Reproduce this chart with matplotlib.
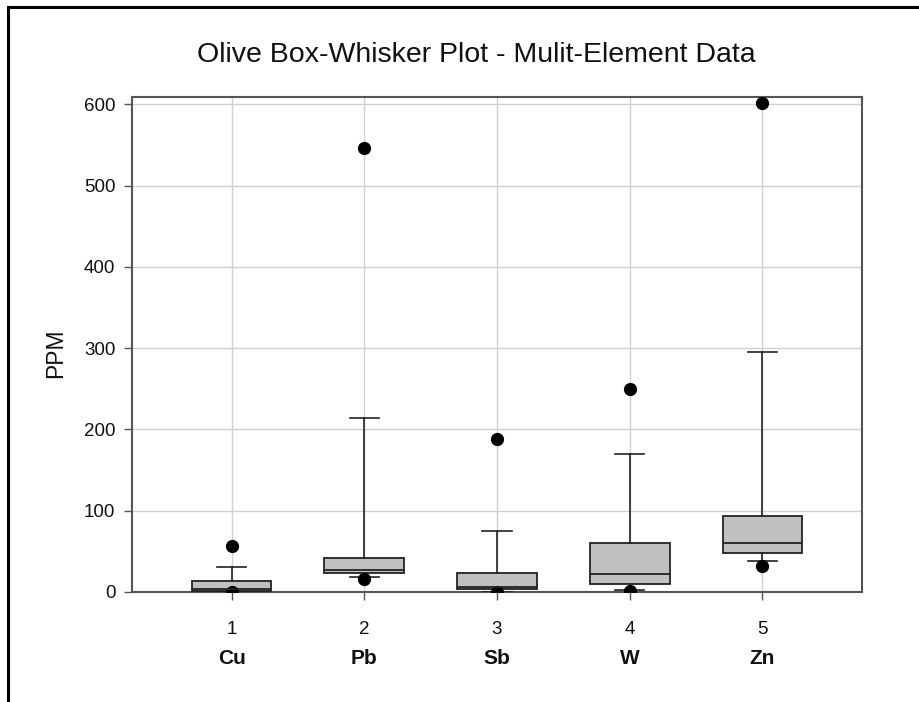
import matplotlib
matplotlib.use("Agg")
import matplotlib.pyplot as plt
from matplotlib.lines import Line2D

plt.rcParams['font.family'] = ['Liberation Sans', 'DejaVu Sans']

# --- data ---
elements = ['Cu', 'Pb', 'Sb', 'W', 'Zn']
positions = [1, 2, 3, 4, 5]
q1 = [1.5, 23, 3.3, 10, 48]
med = [4, 27, 6, 22.5, 60.5]
q3 = [13.5, 42, 23, 60.5, 93.5]
whislo = [0, 18.5, 0, 2, 38.5]
whishi = [31, 214, 75, 170, 295.5]
fliers = [[57, 0], [546, 15.5], [188, 0], [250, 1.2], [602, 32]]

stats = []
for i in range(len(elements)):
    stats.append(dict(q1=q1[i], med=med[i], q3=q3[i], whislo=whislo[i],
                      whishi=whishi[i], fliers=fliers[i]))

fig = plt.figure(figsize=(9.2, 7.02), dpi=100)
ax = fig.add_axes([0.1435, 0.1567, 0.7935, 0.7051])

ax.bxp(stats, positions=positions, widths=0.6, patch_artist=True,
       boxprops=dict(facecolor='#c0c0c0', edgecolor='#222222', linewidth=1.3),
       medianprops=dict(color='#222222', linewidth=1.3),
       whiskerprops=dict(color='#222222', linewidth=1.2),
       capprops=dict(color='#222222', linewidth=1.2),
       capwidths=0.22,
       flierprops=dict(marker='o', markerfacecolor='black', markeredgecolor='black',
                       markersize=8.5),
       zorder=3)

ax.set_xlim(0.25, 5.75)
ax.set_ylim(0, 609)
ax.set_yticks([0, 100, 200, 300, 400, 500, 600])
ax.set_xticks(positions)
ax.set_xticklabels([str(p) for p in positions])
ax.grid(True, color='#d0d0d0', linewidth=1.0, zorder=0)
ax.set_axisbelow(True)

for s in ax.spines.values():
    s.set_color('#555555')
    s.set_linewidth(1.5)
ax.tick_params(axis='both', direction='out', length=6, width=1, color='#555555',
               labelsize=13.5, labelcolor='#111111')
ax.tick_params(axis='y', pad=6)
ax.tick_params(axis='x', pad=15)

# element names under the numbers
for p, name in zip(positions, elements):
    ax.text(p, -0.135, name, transform=ax.get_xaxis_transform(), ha='center', va='center',
            fontsize=15, fontweight='bold', color='#111111')

fig.text(0.061, 0.497, 'PPM', rotation=90, ha='center', va='center', fontsize=16.5,
         color='#111111')
fig.text(0.518, 0.922, 'Olive Box-Whisker Plot - Mulit-Element Data', ha='center',
         va='center', fontsize=20.5, color='#111111')

# partial outer frame (left and top edges)
fig.add_artist(Line2D([8 / 920, 8 / 920], [0, 1 - 7 / 702], transform=fig.transFigure,
                      color='black', linewidth=2.2))
fig.add_artist(Line2D([8 / 920, 1], [1 - 7 / 702, 1 - 7 / 702], transform=fig.transFigure,
                      color='black', linewidth=2.2))

fig.savefig('out.png', dpi=100)
